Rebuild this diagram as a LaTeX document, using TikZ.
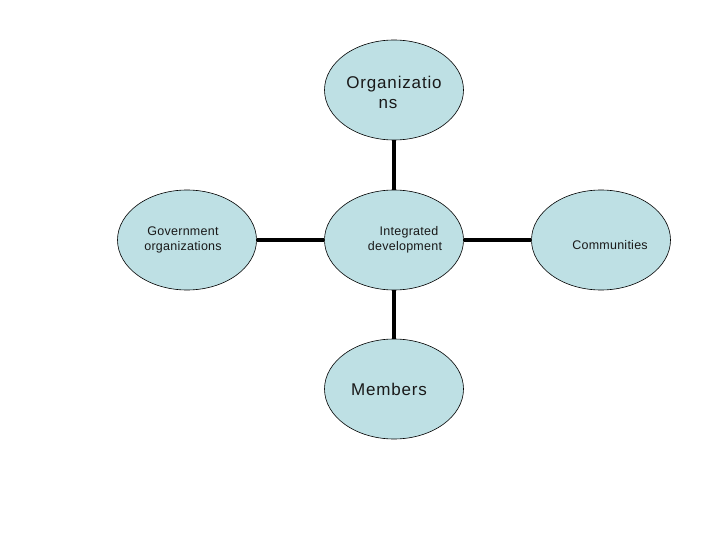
\documentclass[tikz,border=0pt]{standalone}
\usepackage{fontspec}
\setmainfont{Liberation Sans}
\usetikzlibrary{shapes.geometric}
\definecolor{ellfill}{RGB}{190,224,228}
\definecolor{txt}{RGB}{25,25,25}
\begin{document}
\begin{tikzpicture}[x=1pt,y=-1pt,
  ell/.style={ellipse,draw=black,line width=0.6pt,fill=ellfill,minimum width=139pt,minimum height=100pt,inner sep=0pt},
  big/.style={font=\fontsize{17}{20}\selectfont\addfontfeature{LetterSpace=5},text=txt,align=center},
  small/.style={font=\fontsize{12.5}{15}\selectfont\addfontfeature{LetterSpace=2},text=txt,align=center},
  conn/.style={line width=3.5pt,black}]
\useasboundingbox (0,0) rectangle (720,540);
\node[ell] (top) at (394,90) {};
\node[ell] (mid) at (394,240) {};
\node[ell] (left) at (187,240) {};
\node[ell] (right) at (601,240) {};
\node[ell] (bot) at (394,389) {};
\node[big,anchor=center] (toptxt) at (394,92) {Organizatio\\ns\hspace*{12pt}};
\node[big] (bottxt) at (389,389) {Members};
\node[small] (midtxt) at (405,240) {\hspace*{8pt}Integrated\\development};
\node[small] (lefttxt) at (183,240) {Government\\organizations};
\node[small] (righttxt) at (610,245) {Communities};
\draw[conn] (top.south) -- (mid.north);
\draw[conn] (mid.south) -- (bot.north);
\draw[conn] (left.east) -- (mid.west);
\draw[conn] (mid.east) -- (right.west);
\end{tikzpicture}
\end{document}
